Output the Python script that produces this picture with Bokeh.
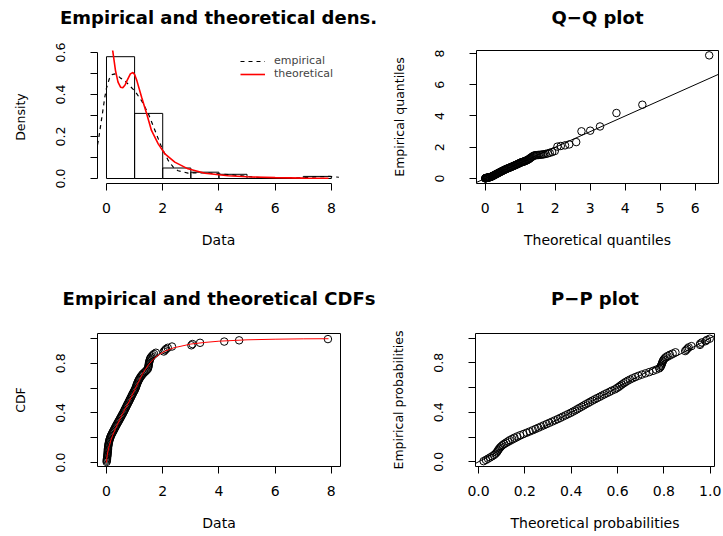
from bokeh.plotting import figure
from bokeh.models import Range1d, FixedTicker, Title, Slope, Legend, LegendItem
from bokeh.layouts import column, row
from bokeh.embed import file_html
from bokeh.resources import INLINE

FONT = "DejaVu Sans"

# ---------------- data ----------------
hist_edges = [0, 1, 2, 3, 4, 5, 6, 7, 8]
hist_density = [0.58, 0.31, 0.05, 0.03, 0.02, 0.0, 0.0, 0.01]

emp_dens_x = [-0.32, -0.29, -0.2, -0.1, -0.06, 0.0, 0.1, 0.2, 0.3, 0.4, 0.5, 0.65, 0.8, 1.0,
              1.25, 1.49, 1.73, 1.96, 2.2, 2.4, 2.55, 2.9, 3.2, 3.6, 4.0, 4.5, 5.0, 5.5, 6.0,
              6.5, 7.0, 7.5, 7.9, 8.27]
emp_dens_y = [0.16, 0.18, 0.26, 0.35, 0.387, 0.43, 0.475, 0.495, 0.498, 0.49, 0.478, 0.466,
              0.445, 0.418, 0.37, 0.308, 0.227, 0.149, 0.085, 0.05, 0.037, 0.026, 0.027, 0.026,
              0.022, 0.017, 0.01, 0.004, 0.002, 0.002, 0.004, 0.008, 0.01, 0.006]

theo_dens_x = [0.08, 0.12, 0.16, 0.22, 0.32, 0.41, 0.5, 0.58, 0.66, 0.73, 0.85, 0.94, 1.0, 1.08,
               1.25, 1.43, 1.6, 1.84, 2.08, 2.43, 2.9, 3.5, 4.33, 5.0, 6.0, 7.0, 7.9]
theo_dens_y = [0.92, 0.76, 0.68, 0.61, 0.514, 0.459, 0.435, 0.432, 0.445, 0.466, 0.498, 0.505,
               0.495, 0.466, 0.387, 0.308, 0.229, 0.165, 0.117, 0.078, 0.046, 0.025, 0.013,
               0.008, 0.004, 0.002, 0.001]

theo_cdf_x = [0, 0.01, 0.02, 0.05, 0.1, 0.15, 0.22, 0.32, 0.41, 0.5, 0.6, 0.7, 0.8, 0.9, 1.0,
              1.15, 1.3, 1.5, 1.7, 1.86, 2.1, 2.4, 3.0, 3.5, 4.0, 5.0, 6.0, 7.0, 7.9]
theo_cdf_y = [0, 0.033, 0.051, 0.089, 0.136, 0.175, 0.22, 0.273, 0.318, 0.36, 0.405, 0.448,
              0.49, 0.537, 0.585, 0.655, 0.722, 0.79, 0.84, 0.868, 0.9, 0.925, 0.955, 0.968,
              0.978, 0.989, 0.994, 0.997, 0.998]

data_sorted = [
    0.005, 0.0093, 0.014, 0.0194, 0.0254, 0.0313, 0.036, 0.0401, 0.0436, 0.0462,
    0.0498, 0.0536, 0.0584, 0.0643, 0.0716, 0.0802, 0.0892, 0.0986, 0.1109, 0.1237,
    0.1398, 0.158, 0.1787, 0.2003, 0.2219, 0.2464, 0.2691, 0.2917, 0.3143, 0.338,
    0.362, 0.386, 0.41, 0.4357, 0.4614, 0.485, 0.5089, 0.5333, 0.5578, 0.5822,
    0.6047, 0.6279, 0.6488, 0.6698, 0.693, 0.7143, 0.7357, 0.7595, 0.781, 0.8043,
    0.8255, 0.8468, 0.8702, 0.8915, 0.9125, 0.9354, 0.9583, 0.9792, 1.0064, 1.0257,
    1.0429, 1.0579, 1.0729, 1.09, 1.1071, 1.1264, 1.1479, 1.1724, 1.1993, 1.2284,
    1.2619, 1.2978, 1.3441, 1.3912, 1.4324, 1.4706, 1.4853, 1.4941, 1.5, 1.508,
    1.516, 1.524, 1.536, 1.552, 1.572, 1.604, 1.644, 1.692, 1.757, 2.04,
    2.08, 2.12, 2.18, 2.33, 3.02, 3.06, 3.33, 4.19, 4.72, 7.88]

theo_quantiles = [
    0.00044, 0.0027, 0.0062, 0.0108, 0.0163, 0.0227, 0.0298, 0.0376, 0.0462, 0.0555,
    0.0653, 0.0759, 0.087, 0.0987, 0.111, 0.1237, 0.1371, 0.1509, 0.1653, 0.1801,
    0.1957, 0.2116, 0.229, 0.2483, 0.2672, 0.286, 0.3049, 0.324, 0.344, 0.364,
    0.384, 0.404, 0.425, 0.4464, 0.4679, 0.4893, 0.5111, 0.5333, 0.5556, 0.5778,
    0.6, 0.6233, 0.6465, 0.6698, 0.693, 0.7167, 0.7405, 0.7643, 0.7881, 0.8106,
    0.8319, 0.8532, 0.8745, 0.8957, 0.9167, 0.9375, 0.9583, 0.9792, 1.0, 1.0214,
    1.0429, 1.0643, 1.0857, 1.1071, 1.1286, 1.15, 1.1724, 1.1948, 1.2172, 1.2396,
    1.2619, 1.2843, 1.3088, 1.3382, 1.3676, 1.3971, 1.4265, 1.4559, 1.4853, 1.52,
    1.56, 1.6, 1.64, 1.68, 1.7286, 1.7857, 1.8429, 1.9125, 1.9875, 2.0625,
    2.16, 2.28, 2.4, 2.6, 2.75, 3.0, 3.28, 3.75, 4.49, 6.4]

theo_probs = [
    0.022, 0.032, 0.041, 0.05, 0.059, 0.067, 0.073, 0.078, 0.082, 0.085,
    0.089, 0.093, 0.098, 0.104, 0.111, 0.119, 0.127, 0.135, 0.145, 0.155,
    0.167, 0.18, 0.194, 0.208, 0.221, 0.234, 0.246, 0.258, 0.27, 0.282,
    0.294, 0.306, 0.318, 0.33, 0.342, 0.353, 0.364, 0.375, 0.386, 0.397,
    0.407, 0.417, 0.426, 0.435, 0.445, 0.454, 0.463, 0.473, 0.482, 0.492,
    0.502, 0.512, 0.523, 0.533, 0.543, 0.554, 0.565, 0.575, 0.588, 0.597,
    0.605, 0.612, 0.619, 0.627, 0.635, 0.644, 0.654, 0.665, 0.677, 0.69,
    0.705, 0.721, 0.737, 0.753, 0.767, 0.78, 0.785, 0.788, 0.79, 0.792,
    0.794, 0.796, 0.799, 0.803, 0.808, 0.816, 0.826, 0.838, 0.85, 0.892,
    0.897, 0.902, 0.907, 0.919, 0.956, 0.957, 0.964, 0.98, 0.986, 0.998]

n_obs = len(data_sorted)
emp_probs = [(i + 0.5) / n_obs for i in range(n_obs)]   # ppoints(n, a = 0.5)


# ---------------- helpers ----------------
def make_fig(fw, fh, left, right, top, bottom, xr, yr, box=True):
    p = figure(frame_width=fw, frame_height=fh,
               min_border_left=left, min_border_right=right,
               min_border_top=top, min_border_bottom=bottom,
               x_range=Range1d(*xr), y_range=Range1d(*yr),
               output_backend="svg", toolbar_location=None, tools="", title=None)
    p.grid.visible = False
    p.background_fill_color = "white"
    p.border_fill_color = "white"
    p.outline_line_color = "black" if box else None
    p.outline_line_width = 1
    for ax in (p.xaxis[0], p.yaxis[0]):
        ax.axis_line_color = "black"
        ax.major_tick_line_color = "black"
        ax.minor_tick_line_color = None
        ax.major_tick_out = 7
        ax.major_tick_in = 0
        ax.major_label_text_font = FONT
        ax.axis_label_text_font = FONT
        ax.axis_label_text_font_style = "normal"
        ax.major_label_text_color = "black"
        ax.axis_label_text_color = "black"
    xa, ya = p.xaxis[0], p.yaxis[0]
    xa.major_label_text_font_size = "14px"
    xa.axis_label_text_font_size = "14px"
    xa.major_label_standoff = 12
    xa.axis_label_standoff = 16
    ya.major_label_text_font_size = "12.5px"
    ya.axis_label_text_font_size = "12.5px"
    ya.major_label_orientation = "vertical"
    ya.major_label_standoff = 25
    ya.axis_label_standoff = 26
    return p


def set_ticks(axis, ticks, labels):
    axis.ticker = FixedTicker(ticks=ticks)
    axis.major_label_overrides = {t: l for t, l in zip(ticks, labels)}
    axis.bounds = (ticks[0], ticks[-1])


def add_title(p, text, standoff):
    # trailing empty line lifts the bottom-aligned title one line above the frame
    p.add_layout(Title(text=text + "\n", align="center", text_font=FONT,
                       text_font_style="bold", text_font_size="18px",
                       text_color="black", standoff=standoff), "above")


# ---------------- panel 1: densities ----------------
p1 = make_fig(242, 133, 97, 41, 50, 85, (-0.32, 8.29), (-0.0238, 0.6095), box=False)
p1.quad(left=hist_edges[:-1], right=hist_edges[1:], bottom=0, top=hist_density,
        fill_color=None, line_color="black", line_width=1)
r_emp = p1.line(emp_dens_x, emp_dens_y, line_color="black", line_dash="4 4", line_width=1.2)
r_theo = p1.line(theo_dens_x, theo_dens_y, line_color="red", line_width=1.6)
set_ticks(p1.xaxis[0], [0, 2, 4, 6, 8], ["0", "2", "4", "6", "8"])
set_ticks(p1.yaxis[0], [0, 0.1, 0.2, 0.3, 0.4, 0.5, 0.6],
          ["0.0", "", "0.2", "", "0.4", "", "0.6"])
p1.xaxis[0].axis_label = "Data"
p1.yaxis[0].axis_label = "Density"
add_title(p1, "Empirical and theoretical dens.", 4)
leg = Legend(items=[LegendItem(label="empirical", renderers=[r_emp]),
                    LegendItem(label="theoretical", renderers=[r_theo])],
             location=(143, 103), border_line_color=None, background_fill_alpha=0,
             padding=2, margin=0, spacing=-2, glyph_width=25, glyph_height=10,
             label_height=10, label_standoff=9, label_text_font_size="11px",
             label_text_font=FONT)
p1.add_layout(leg)

# ---------------- panel 2: Q-Q ----------------
p2 = make_fig(242, 133, 96, 5, 50, 85, (-0.249, 6.666), (-0.32, 8.19))
p2.add_layout(Slope(gradient=1, y_intercept=0, line_color="black", line_width=1))
p2.scatter(theo_quantiles, data_sorted, marker="circle", size=7.5,
           fill_color=None, line_color="black", line_width=1)
set_ticks(p2.xaxis[0], [0, 1, 2, 3, 4, 5, 6], ["0", "1", "2", "3", "4", "5", "6"])
set_ticks(p2.yaxis[0], [0, 2, 4, 6, 8], ["0", "2", "4", "6", "8"])
p2.xaxis[0].axis_label = "Theoretical quantiles"
p2.yaxis[0].axis_label = "Empirical quantiles"
add_title(p2, "Q\u2212Q plot", 4)

# ---------------- panel 3: CDF ----------------
p3 = make_fig(243, 133, 97, 40, 65, 70, (-0.32, 8.327), (-0.032, 1.04))
p3.scatter(data_sorted, emp_probs, marker="circle", size=7.5,
           fill_color=None, line_color="black", line_width=1)
p3.line(theo_cdf_x, theo_cdf_y, line_color="red", line_width=1)
set_ticks(p3.xaxis[0], [0, 2, 4, 6, 8], ["0", "2", "4", "6", "8"])
set_ticks(p3.yaxis[0], [0, 0.2, 0.4, 0.6, 0.8, 1.0], ["0.0", "", "0.4", "", "0.8", ""])
p3.xaxis[0].axis_label = "Data"
p3.yaxis[0].axis_label = "CDF"
add_title(p3, "Empirical and theoretical CDFs", 7)

# ---------------- panel 4: P-P ----------------
p4 = make_fig(239, 133, 95, 9, 65, 70, (-0.013, 1.0186), (-0.038, 1.037))
p4.add_layout(Slope(gradient=1, y_intercept=0, line_color="black", line_width=1))
p4.scatter(theo_probs, emp_probs, marker="circle", size=7.5,
           fill_color=None, line_color="black", line_width=1)
set_ticks(p4.xaxis[0], [0, 0.2, 0.4, 0.6, 0.8, 1.0], ["0.0", "0.2", "0.4", "0.6", "0.8", "1.0"])
set_ticks(p4.yaxis[0], [0, 0.2, 0.4, 0.6, 0.8, 1.0], ["0.0", "", "0.4", "", "0.8", ""])
p4.xaxis[0].axis_label = "Theoretical probabilities"
p4.yaxis[0].axis_label = "Empirical probabilities"
add_title(p4, "P\u2212P plot", 7)

layout = column(row(p1, p2), row(p3, p4))
open("out.html", "w").write(file_html(layout, INLINE))
